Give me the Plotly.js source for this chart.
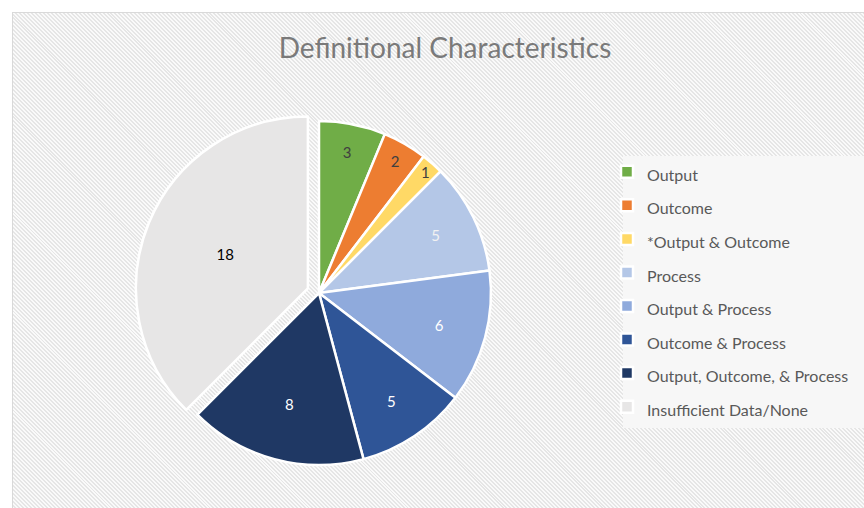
<!DOCTYPE html>
<html>
<head>
<meta charset="utf-8">
<script src="https://cdn.plot.ly/plotly-3.0.1.min.js"></script>
<style>
  html, body { margin: 0; padding: 0; background: #ffffff; width: 864px; height: 508px; overflow: hidden; }
  #chart {
    position: absolute; left: 12px; top: 12px; width: 852px; height: 496px;
    border-left: 1px solid #d9d9d9; border-top: 1px solid #d9d9d9; box-sizing: border-box;
    background: repeating-linear-gradient(45deg, #fafafa 0px, #fafafa 1.4px, #e6e6e6 1.4px, #e6e6e6 2.8px);
  }
</style>
</head>
<body>
<div id="chart"></div>
<script>
const categories = ['Output', 'Outcome', '*Output & Outcome', 'Process', 'Output & Process',
                    'Outcome & Process', 'Output, Outcome, & Process', 'Insufficient Data/None'];
const values = [3, 2, 1, 5, 6, 5, 8, 18];
const colors = ['#70ad47', '#ed7d31', '#ffd966', '#b4c7e7', '#8faadc', '#2f5597', '#1f3864', '#e7e6e6'];
const labelColors = ['#404040', '#404040', '#404040', '#f2f2f2', '#ffffff', '#ffffff', '#ffffff', '#000000'];
const pulls = [0, 0, 0, 0, 0, 0, 0, 0.07];

const W = 852, H = 496;
const legendNames = categories.map(c => '<span style="font-size:16px">' + c + '</span>');

const trace = {
  type: 'pie',
  labels: legendNames,
  values: values,
  text: values.map(String),
  textinfo: 'text',
  hoverinfo: 'label+value',
  sort: false,
  direction: 'clockwise',
  rotation: 0,
  pull: pulls,
  marker: { colors: colors, line: { color: '#ffffff', width: 2.5 } },
  textposition: 'inside',
  insidetextorientation: 'horizontal',
  textfont: { family: 'Lato, "Open Sans", sans-serif', size: 15, color: labelColors },
  domain: { x: [(134 - 12) / W, (502 - 12) / W], y: [(496 - 464) / H, (496 - 96) / H] }
};

const layout = {
  width: W, height: H,
  margin: { l: 0, r: 0, t: 0, b: 0 },
  paper_bgcolor: 'rgba(0,0,0,0)',
  plot_bgcolor: 'rgba(0,0,0,0)',
  title: {
    text: 'Definitional Characteristics',
    font: { family: 'Lato, "Open Sans", sans-serif', size: 28, color: '#7a7a7a' },
    x: (444 - 12) / W, xanchor: 'center', xref: 'paper',
    y: 1 - (47 - 12) / H, yanchor: 'middle', yref: 'container'
  },
  showlegend: true,
  legend: {
    x: (606 - 12) / W, xanchor: 'left',
    y: 1 - (149 - 12) / H, yanchor: 'top',
    bgcolor: 'rgba(0,0,0,0)',
    font: { family: 'Lato, "Open Sans", sans-serif', size: 23.5, color: '#595959' },
    traceorder: 'normal'
  },
  shapes: [{
    type: 'rect', xref: 'paper', yref: 'paper', layer: 'below',
    x0: (622 - 12) / W, x1: 1.0, y0: (496 - 415) / H, y1: (496 - 143) / H,
    fillcolor: '#f7f7f7', line: { width: 0 }
  }]
};

Plotly.newPlot('chart', [trace], layout, { displayModeBar: false, staticPlot: true });
</script>
</body>
</html>
